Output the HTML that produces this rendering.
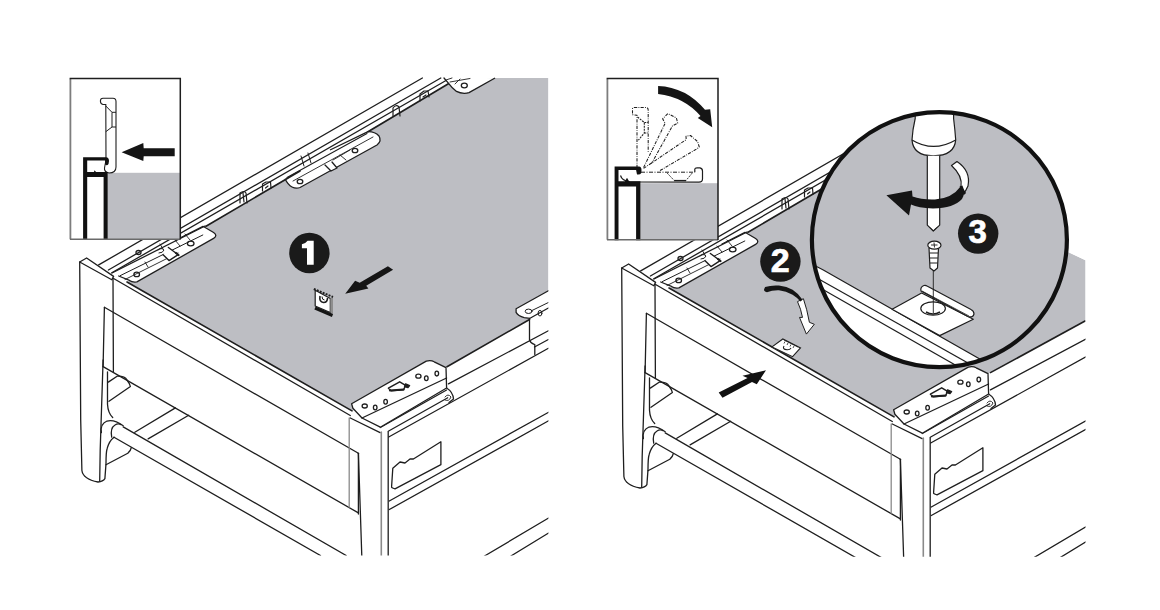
<!DOCTYPE html>
<html><head><meta charset="utf-8">
<style>
html,body{margin:0;padding:0;background:#fff;width:1160px;height:610px;overflow:hidden}
svg{display:block}
.n{font-family:"Liberation Sans",sans-serif;font-weight:bold;fill:#fff}
</style></head><body>
<svg width="1160" height="610" viewBox="0 0 1160 610">
<defs>
<clipPath id="clipL"><rect x="0" y="0" width="548.4" height="555.5"/></clipPath>
<clipPath id="clipR"><rect x="560" y="0" width="525.5" height="556.8"/></clipPath>
<clipPath id="clipC"><circle cx="939.4" cy="239.7" r="127.5"/></clipPath>
<g id="common" fill="none" stroke="#1e1e1e" stroke-width="1.3" stroke-linejoin="round" stroke-linecap="round">
  <!-- front-left plate -->
  <path d="M118.7 276 L129.5 280.4 Q132 282.5 136.9 281.9 L213.6 238.4 Q218 235.5 213.6 232.5 L203 226.3 L180 238" fill="#fff"/>
  <!-- rail lines -->
  <path d="M98.7 264.9 L422.4 78"/>
  <path d="M108.4 270 L440.8 78"/>
  <path d="M111.8 272.8 L446 80.5"/>
  <!-- gray edge thick -->
  <path d="M206 226.3 L300 171" stroke-width="1.7"/>
  <!-- front strip lines -->
  <path d="M113.6 278.5 L350.3 415.5"/>
  <path d="M127 282 L352 410.9" stroke-width="1.6"/>
  <!-- front-left bracket plate -->
  <path d="M112 273 L205 226"/>
  <path d="M120.3 275.6 L202.8 235" stroke-width="1"/>
  <path d="M125 279.5 L178 253" stroke-width="0.9"/>
  <ellipse cx="136.7" cy="274.4" rx="2.8" ry="2.2"/>
  <ellipse cx="190.7" cy="243.5" rx="3.3" ry="2.4"/>
  <ellipse cx="138.5" cy="252.5" rx="2.5" ry="2"/>
  <path d="M163.1 254.7 L169 260.6 L178.2 254.7 L168.4 247.5" fill="#fff" stroke-width="1.4"/>
  <path d="M176 253 L178.5 255" stroke-width="2.2"/>
  <path d="M158 250 Q161 247 164 250 Q163 253 159 253" stroke-width="1"/>
  <path d="M175 240 L180 246 M185 234 L190 240" stroke-width="0.9"/>
  <path d="M160 244 L163 249 M145 262 L148 267" stroke-width="0.9"/>
  <!-- clips on rail -->
  <path d="M240 203 L240 193 Q244 190 246 193 L247 203 M243 193 L244 202" stroke-width="1.2"/>
  <path d="M262.5 191 L262.5 184 L266 182 L270.5 182 L271 188 M265.5 188 L268 186" stroke-width="1.2"/>
  <!-- left post -->
  <path d="M79.7 262 L86.6 258 L113.6 276.4 L111.8 279.8 Z" fill="#fff"/>
  <path d="M79.7 262 L80.7 420 L81.9 470.5 Q83 479 98 482 Q103 481.5 104.9 478.6 L106 463.6 Q106 452 107.1 448.7 Q109 441 114 437.2"/>
  <path d="M113 279 L113.4 371.8"/>
  <path d="M103.1 360 L100.2 450 L99.7 481"/>
  <!-- face -->
  <path d="M104.4 307.3 L103.1 366.6"/>
  <path d="M104.4 307.3 L358.4 453.3"/>
  <path d="M103.1 366.6 L358.4 512.9"/>
  <path d="M358.4 453.3 L358.4 514"/>
  <path d="M358.4 453.3 L361.8 556"/>
  <!-- right post -->
  <path d="M349.2 418 L349.2 507.2" stroke="#8a8a8a"/>
  <path d="M350.3 418 L380.1 432.6"/>
  <path d="M381.3 432 L381.3 556" stroke="#8a8a8a" stroke-width="1.6"/>
  <path d="M388.2 431.5 L388.2 556"/>
  <!-- side box -->
  <path d="M380.3 427.5 L446.6 390"/>
  <path d="M388.7 431 L450 396.5"/>
  <path d="M388.7 437 L548.4 348.3"/>
  <path d="M448.4 383.9 L548.4 330.7"/>
  <path d="M389.3 501 L548.6 412.2"/>
  <path d="M389.3 509.5 L548.6 420.8"/>
  <path d="M484.5 556 L548.6 518"/>
  <path d="M510.9 556 L548.6 533"/>
  <path d="M440.9 441.8 L440.9 464.7 L395 488.8 Q391 488 391.6 486.5 L392.8 468.2 L400 462 L405 463 L410 459 L413.4 459 Z"/>
  <!-- front-right bracket -->
  <path d="M352.9 408.3 L351.6 403.8 L426.3 361.1 Q431 360 434.2 361.8 L446 367.7 L446.6 388 L380.3 427.2 L362 418 Z" fill="#fff"/>
    <path d="M362 418 L446.6 378"/>
  <path d="M446.6 388 Q453 392 453.5 399 L449 402.5" fill="#fff"/>
  <ellipse cx="364.7" cy="406" rx="2.6" ry="2" fill="#fff"/>
  <ellipse cx="375.2" cy="407.5" rx="1.8" ry="2.4" fill="#fff"/>
  <ellipse cx="385.6" cy="401.8" rx="1.8" ry="2.4" fill="#fff"/>
  <ellipse cx="418.4" cy="376.2" rx="2.6" ry="2" fill="#fff"/>
  <ellipse cx="426.3" cy="378.2" rx="1.8" ry="2.4" fill="#fff"/>
  <ellipse cx="436.8" cy="373.6" rx="1.8" ry="2.4" fill="#fff"/>
  <path d="M388.4 388.2 L399.7 381.8 L405.6 385.3 L403.6 389.7 L391.3 390.7 Z" fill="#fff" stroke-width="1.5"/>
  <path d="M390 390.5 L403.5 389.5" stroke-width="2.2"/>
  <path d="M405.6 383.8 L409.6 385.5 L408 387.5 L404.5 386.5 Z" fill="#1e1e1e"/>
  <path d="M445 397 Q448 393 451 397 Q449 402 445 400" stroke-width="0.9"/>
  <!-- rod -->
  <path d="M123.2 426.9 L346.2 555.5"/>
  <path d="M114 437.2 L320.5 555.5"/>
  <path d="M101.4 432.6 Q100 424 107 421 Q114 419 123.2 425.7" fill="#fff"/>
  <path d="M111.7 437.2 Q110 428 115 425 Q118 423 121 424.6"/>
  <!-- slats -->
  <path d="M134.8 432.3 L175.4 407.9"/>
  <path d="M148.1 438.9 L188.7 415.3"/>
  <!-- inner frame -->
  <path d="M107.5 371.8 L107.5 404.2 Q108 413 112.7 417.5"/>
  <path d="M108.3 382.1 L117.1 376.2 Q125 376 127 380 Q130 384 130.4 386.5 L109 401.3"/>
  <path d="M106 464.8 L127.8 453.3 Q131 450 131.3 447.6"/>
</g>
</defs>

<!-- ===== LEFT DRAWER ===== -->
<g clip-path="url(#clipL)">
  <path d="M448.8 83.6 L494.6 78 L548.4 78 L548.4 290.7 L516.1 308.8 L529.5 319.5 L447 366.7 L352 410.9 L127 282 L213.6 238.4 L206 226.3 Z" fill="#bdbec3"/>
  <path d="M285 178.8 Q288 185 292 187 Q296 189 300 187.5 L377 145 Q382 141 379 136 Q375 131.5 368 131.6 L330 150" fill="#fff" stroke="#1e1e1e" stroke-width="1.3" stroke-linejoin="round"/>
  <use href="#common"/>
  <g fill="none" stroke="#1e1e1e" stroke-width="1.3" stroke-linejoin="round" stroke-linecap="round">
    <!-- middle bracket -->
    <path d="M287 177.5 L367 133.5" stroke-width="1.1"/>
    <path d="M293 181 L373 137" stroke-width="0.9"/>
    <path d="M301 156 L304 166 M308 153 L311 163" stroke-width="1"/>
    <ellipse cx="300" cy="181.5" rx="2.8" ry="2.2"/>
    <ellipse cx="355" cy="150.5" rx="2.8" ry="2.2"/>
    <path d="M325 165 L331 171 L337 168 L332 162" fill="#fff"/>
    <path d="M340 155 L346 160 M333 160 L350 150" stroke-width="0.9"/>
    <path d="M368 131.8 L448.8 83.6" stroke-width="1.7"/>
    <!-- top bracket -->
    <path d="M444 78 L448.8 83.6 Q452 88 456.5 91.4 Q460 93.3 464.3 93.3 Q467 93.3 469 92.6 L494.6 78.2" fill="#fff"/>
    <ellipse cx="464.3" cy="85.5" rx="3" ry="2.3"/>
    <path d="M450 82 L470 78.5 M455 84 L460 79 M446 80 L452 78" stroke-width="0.9"/>
    <!-- clips on upper rail -->
    <path d="M393 116 L393 108 Q396 104 399 107 L400 116" stroke-width="1.2"/>
    <path d="M420 101 L420 94 L424 91 L428 91 L429 97 M423 97 L426 95" stroke-width="1.2"/>
    <!-- right-side middle bracket -->
    <path d="M548.4 290.7 L516.1 308.8 L516.1 312.4 Q518 316 524.2 317.6 L530 318.3 L548.4 308" fill="#fff"/>
    <path d="M529.5 318.3 L529.5 339.7 Q530 343 534.8 344.6 L534.8 354.4"/>
    <path d="M534.5 347 L548.4 339.5"/>
    <ellipse cx="528.6" cy="311.3" rx="3.4" ry="2.2" stroke-width="1"/>
    <ellipse cx="540" cy="313.2" rx="1.9" ry="2.8" stroke-width="1"/>
    <path d="M532 310.5 L548.4 302.5" stroke-width="1"/>
    <path d="M529.5 319.5 L447 366.7" stroke-width="1.6"/>
  </g>
</g>
<!-- inset 1 -->
<g>
  <rect x="70" y="78.3" width="110.2" height="161" fill="#fff"/>
  <rect x="107.7" y="172.8" width="72.5" height="66.5" fill="#bdbec3"/>
  <!-- clip -->
  <path d="M100.4 101 Q100.4 98.2 103 98.2 L113 98.2 Q116 98.2 116 101.5 L116 167 Q116 173 109 173 Q104 172 104.5 168 L106 160 L105.8 104.5 L103 104.5 Q100.4 104 100.4 101 Z" fill="#fff" stroke="#1e1e1e" stroke-width="1.1"/>
  <path d="M105.8 106 L112 112.3 L112 127 L105.8 131.7 M112 112.3 L116 112.3 M112 127 L116 127" fill="none" stroke="#1e1e1e" stroke-width="1"/>
  <!-- black profile -->
  <path d="M83.1 240 L83.1 157.2 L106 157.2 Q109 157.2 109 161 L108.5 164 Q107 166 105.2 164.6 L105 160.5 L87.2 160.5 L87.2 172 L94 172 L94.6 170.3 L96 172 L107.7 172 L107.7 240 L103.6 240 L103.6 176.9 L87.2 176.9 L87.2 240 Z" fill="#111"/>
  <!-- arrow -->
  <path d="M121.6 152.2 L143.3 143.1 L143.7 148.2 L174.7 148.2 L174.7 156.2 L143.7 156.2 L143.3 161 Z" fill="#151515"/>
</g>
<path d="M70.4 239.3 L70.4 78.8" stroke="#7d7d7d" stroke-width="1.8" fill="none"/>
<path d="M70 239.3 L180.2 239.3" stroke="#6a6a6a" stroke-width="1.4" fill="none"/>
<path d="M69.6 78.6 L180.3 78.6 L180.3 239.5" stroke="#1e1e1e" stroke-width="1.5" fill="none"/>
<circle cx="309.4" cy="253" r="20.2" fill="#1a1a1a"/>
<path d="M307 264.8 L307 248.3 L301.9 248.3 L301.9 244.2 Q305.5 243.8 307.6 240.8 L313.7 240.8 L313.7 264.8 Z" fill="#fff"/>
<path d="M345.2 293.8 L355.1 280.7 L359.7 282.8 L387.9 266.2 L393.1 269.8 L366.2 285.8 L368.4 288.4 Z" fill="#151515"/>
<!-- clip 1 -->
<g stroke-linejoin="round">
  <path d="M315.2 290.2 L330.3 298.5 L330.3 312.5 L315.2 306 Z" fill="#fff" stroke="#1e1e1e" stroke-width="1.2"/>
  <path d="M330.3 298.5 L333 297 L333 313.5 L330.3 312.5 Z" fill="#8e8e8e"/>
  <path d="M313.8 289 L333 297" stroke="#1e1e1e" stroke-width="2" stroke-dasharray="2 1.2" fill="none"/>
  <path d="M315 308 L332.5 315.5" stroke="#151515" stroke-width="3.2" fill="none"/>
  <path d="M320 296 Q319 302 323.5 302.5 Q327.5 302.5 327.5 298" fill="none" stroke="#1e1e1e" stroke-width="1.6"/>
  <path d="M322 296.5 Q322 300 324.5 300" fill="none" stroke="#1e1e1e" stroke-width="1"/>
</g>

<!-- ===== RIGHT DRAWER ===== -->
<g clip-path="url(#clipR)">
  <path d="M669 288 L755.6 244.4 L748 232.3 L848 173.5 L1068 252 L1085.5 260.3 L1085.5 320.8 L989.9 372.9 L894 416.9 Z" fill="#bdbec3"/>
  <use href="#common" transform="translate(542,6)"/>
  <path d="M990 372.9 L1085.5 320.8" stroke="#1e1e1e" stroke-width="1.6"/>
</g>
<path d="M880 0 L1160 0 L1160 262 L1085.5 260.3 L1068 252 L1000 230 L900 170 Z" fill="#fff"/>
<!-- magnifier -->
<g clip-path="url(#clipC)">
  <rect x="800" y="100" width="280" height="280" fill="#bdbec3"/>
  <g stroke="#1e1e1e" stroke-width="1.2" stroke-linejoin="round">
    <path d="M823.3 270 L1000 370.5 L800 380 L800 258 Z" fill="#fff"/>
    <path d="M820 279.8 L1000 381" fill="none"/>
    <path d="M815 285 L1000 390.5" fill="none"/>
    <!-- plate -->
    <path d="M892.1 309.3 L921.6 293 L973.3 319.2 L939.7 335.6 Z" fill="#fff"/>
    <path d="M924 285.5 Q920 287 921 291 L968 316.5 Q973 318 974 314 Q974 311 971 309.5 L927 286 Q925.5 285 924 285.5 Z" fill="#fff"/>
    <path d="M922 291 L969 316" fill="none" stroke-width="0.8"/>
    <ellipse cx="933.1" cy="308.5" rx="12.3" ry="6.6" fill="#fff"/>
    <path d="M926 312 Q933 316 940 312" fill="none" stroke-width="1.5"/>
    <!-- screw -->
    <path d="M933.3 268 L933.3 313" fill="none" stroke-width="0.9"/>
    <path d="M929 248 L938.5 248 L937.5 268 L934 271 L930 268 Z" fill="#fff"/>
    <path d="M929.5 253 L938 253 M929.7 258 L937.8 258 M930 263 L937.6 263" fill="none" stroke-width="1"/>
    <ellipse cx="934.4" cy="245.2" rx="6.6" ry="4" fill="#fff"/>
    <path d="M931 245 L937.5 245 M934 242.5 L934.5 247.5" fill="none" stroke-width="0.9"/>
    <!-- screwdriver -->
    <path d="M915.2 100 L915.2 118.5 Q912.5 130 912 139.9 Q913 155.8 933.3 155.8 Q954.5 155.8 955.7 139.9 Q955 130 953.6 118.5 L953.6 100 Z" fill="#fff"/>
    <path d="M912 139.9 Q933.3 153 955.7 139.9" fill="none"/>
    <path d="M927.3 155.8 L927.3 225.1 L933.3 231 L939.7 225.1 L939.7 155.8" fill="#fff"/>
    <path d="M930 227.5 L933.3 231 L936.5 227.5" fill="none" stroke-width="0.8"/>
    <!-- rotation arrow -->
    <path d="M951.5 165.5 L957 161.5 Q971 171 968 186 Q966 191 963 194 L961 187 Q963 176 951.5 165.5 Z" fill="#fff"/>
  </g>
  <path d="M961 186 Q966 193 962 199 Q954 208 933 208.5 Q918 208 911 204.5 L909 215.5 L886.4 195.3 L912 190.5 L912.5 196.5 Q922 200 935 199.5 Q952 198.5 961 186 Z" fill="#151515"/>
  <path d="M961 186 Q963 192 965 194" stroke="#151515" stroke-width="3" fill="none"/>
</g>
<circle cx="939.4" cy="239.7" r="127.5" fill="none" stroke="#111" stroke-width="4.2"/>
<!-- inset 2 -->
<g>
  <rect x="607.4" y="78.3" width="110.6" height="161.9" fill="#fff"/>
  <rect x="640.2" y="183.2" width="77.8" height="57" fill="#bdbec3"/>
  <!-- horizontal clip solid -->
  <path d="M636 172.2 L694.8 172.2 L694.8 169 Q695 167.9 697 167.9 L700 167.9 Q702.5 168.5 702.5 171 L702.5 179 Q702.5 182.1 699 182.1 L630 181.8 Q622 181 620.5 175.5 Q620.5 171 625 170.5 Z" fill="#fff"/>
  <path d="M694.8 172.2 L694.8 169 Q695 167.9 697 167.9 L700 167.9 Q702.5 168.5 702.5 171 L702.5 179 Q702.5 182.1 699 182.1 L630 181.8 Q622 181 620.5 175.5" fill="none" stroke="#1e1e1e" stroke-width="1.2"/>
  <path d="M641 172.2 L694.8 172.2" fill="none" stroke="#1e1e1e" stroke-width="1" stroke-dasharray="4 1.5 1 1.5"/>
  <path d="M667.2 173.1 L674.1 180.4 M692.2 173.1 L686.1 180.4" fill="none" stroke="#1e1e1e" stroke-width="0.9" stroke-dasharray="2 1"/>
  <path d="M674.1 180.6 L686.1 180.6" fill="none" stroke="#1e1e1e" stroke-width="1.4"/>
  <!-- ghost clips -->
  <g fill="none" stroke="#1e1e1e" stroke-width="1.05" stroke-dasharray="3.2 1.2 0.9 1.2" stroke-linejoin="round">
    <path d="M637 168 L637 115.3 L632.5 114.7 L632.5 109 Q632.5 107.5 634.5 107.5 L646.5 107.5 Q648.2 107.8 648.2 110 L648.2 153"/>
    <path d="M637.5 117 L644.3 122.5 L644.3 133 L638.4 140.2 M644.3 122.5 L648 122.5 M644.3 133 L648 133" stroke-dasharray="2 1"/>
    <path d="M643.6 167.5 L665.2 123.2 L662.6 118.8 L667.9 113.6 L676.4 118 L677.7 123.2 L672.5 125.8 L651.5 163.5"/>
    <path d="M643.6 168.4 L686.2 139.6 L686 136.2 L690.5 135.5 L697.5 141.5 L699.3 147 L697 148.8 L659.3 171"/>
  </g>
  <!-- black profile -->
  <path d="M614.6 240.2 L614.6 166.6 L639 166.6 Q641.5 167 641.5 170 L641.3 173 Q640 175 637 174.4 L636.1 170.1 L618.5 170.1 L618.5 181.3 L625 181.3 L627 177.8 L629 181.3 L640.4 181.3 L640.4 240.2 L636.1 240.2 L636.1 186.4 L618.5 186.4 L618.5 240.2 Z" fill="#111"/>
  <!-- curved arrow -->
  <path d="M658.1 85.9 Q686 87 705 109.8 L710.2 109.3 L712.2 127.3 L697.8 117.9 L700.5 116 Q684 97 658.1 94 Z" fill="#151515"/>
</g>
<path d="M607.4 239.7 L607.4 78.8" stroke="#7d7d7d" stroke-width="1.8" fill="none"/>
<path d="M607 239.7 L718 239.7" stroke="#6a6a6a" stroke-width="1.4" fill="none"/>
<path d="M606.6 78.6 L718 78.6 L718 240" stroke="#1e1e1e" stroke-width="1.5" fill="none"/>
<circle cx="780.4" cy="261.6" r="20.2" fill="#1a1a1a"/>
<text x="780.2" y="271.9" text-anchor="middle" class="n" font-size="34" stroke="#fff" stroke-width="0.7">2</text>
<circle cx="978.2" cy="233.6" r="20.2" fill="#1a1a1a"/>
<text x="977.6" y="243.4" text-anchor="middle" class="n" font-size="33" stroke="#fff" stroke-width="0.7">3</text>
<!-- arrow 2a -->
<path d="M797.5 301.6 Q801 309 802.5 317.4 L799.5 317.4 L806.4 334.1 L814.3 324.3 L809.4 322.3 Q807 309 803.4 298.7 Z" fill="#fff" stroke="#1e1e1e" stroke-width="1"/>
<path d="M765.1 286.9 Q771 285 778.9 285.5 Q787 286.5 792.6 289.8 Q799 294 802.5 299.7 L800.5 301.6 Q797 297.5 792.6 294.8 Q786 291 778.9 290.2 Q772 290 767 292.2 Q763.5 291.5 764.1 289.3 Z" fill="#151515"/>
<!-- clip 2 -->
<path d="M772 346.9 L782.8 339 L800.5 347.9 L792.6 356.7 Z" fill="#fff" stroke="#1e1e1e" stroke-width="1.1"/>
<path d="M784 340 L798 347 M785 341.5 L784 343.5 M788 343 L787 345 M791 344.5 L790 346.5 M794 346 L793 348" fill="none" stroke="#1e1e1e" stroke-width="0.8"/>
<path d="M784 346 Q782 349.5 787 349.8 Q790 350 791 348" fill="none" stroke="#1e1e1e" stroke-width="1.1"/>
<!-- arrow 2b -->
<path d="M766 370.2 L742.5 375.8 L747.5 378 L718.7 392.5 L722.5 397.8 L752 382 L756.8 384.2 Z" fill="#111"/>
</svg>
</body></html>
